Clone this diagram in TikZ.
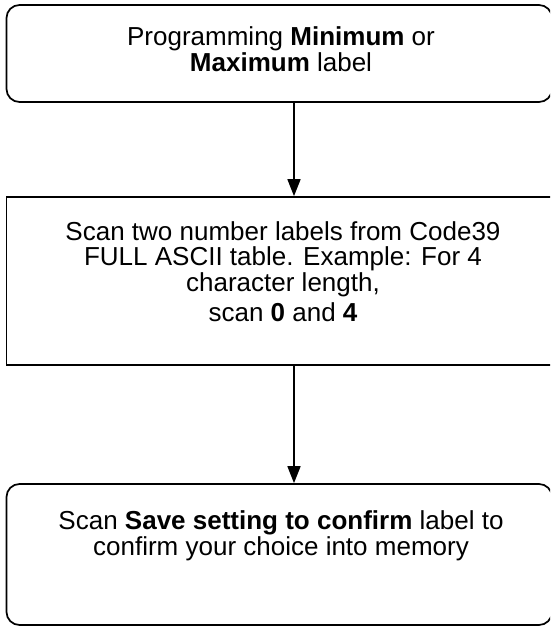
\documentclass[tikz,border=0pt]{standalone}
\usepackage{fontspec}
\setmainfont{Liberation Sans}
\usetikzlibrary{arrows.meta}
\begin{document}
\begin{tikzpicture}[x=1pt,y=1pt,
  boxline/.style={draw=black, line width=1.7pt},
  rbox/.style={boxline, rounded corners=13pt},
  sbox/.style={boxline},
  txt/.style={align=center, inner sep=0pt, font=\fontsize{26}{25.5}\selectfont},
  flow/.style={line width=1.7pt, -{Triangle[width=13pt,length=17pt]}}]
\useasboundingbox (0,0) rectangle (550,627);
\clip (0,0) rectangle (550,627);
\fill[white] (0,0) rectangle (550,627);
% boxes
\node[rbox, minimum width=545.5pt, minimum height=97pt] (b1) at (279.25,573.5) {};
\node[sbox, minimum width=545.5pt, minimum height=168pt] (b2) at (279.25,346) {};
\node[rbox, minimum width=545.5pt, minimum height=141pt] (b3) at (279.25,72.5) {};
% texts
\node[txt] (t1) at (281,578) {Programming \textbf{Minimum} or\\\textbf{Maximum} label};
\node[txt] (t2) at (283,355.5) {Scan two number labels from Code39\\FULL ASCII table. Example: For 4\\character length,\\[5pt]scan \textbf{0} and \textbf{4}};
\node[txt] (t3) at (281,91) {Scan \textbf{Save setting to confirm} label to\\confirm your choice into memory};
% connectors
\coordinate (ax) at (294,0);
\draw[flow] (b1.south -| ax) -- (b2.north -| ax);
\draw[flow] (b2.south -| ax) -- (b3.north -| ax);
\end{tikzpicture}
\end{document}
